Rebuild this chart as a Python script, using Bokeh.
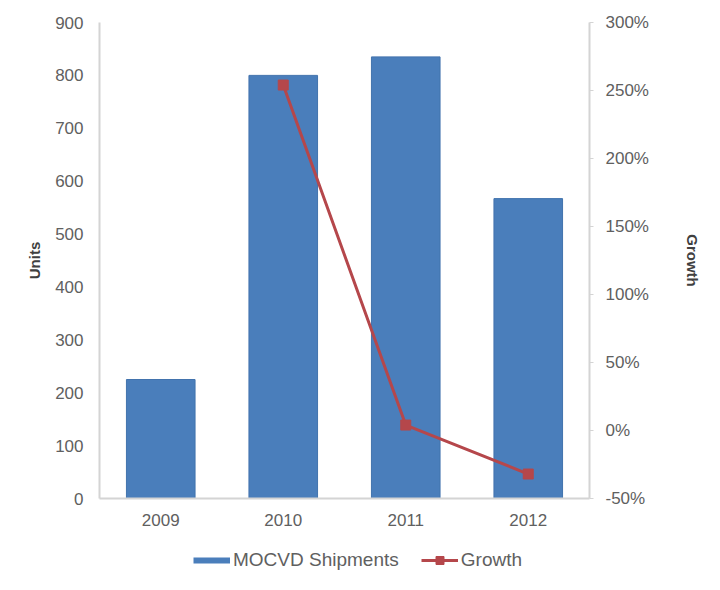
from bokeh.plotting import figure
from bokeh.layouts import column
from bokeh.models import (FactorRange, Range1d, LinearAxis, FixedTicker,
                          PrintfTickFormatter, Legend, LegendItem, ColumnDataSource)
from bokeh.embed import file_html
from bokeh.resources import INLINE

# data
years = ["2009", "2010", "2011", "2012"]
shipments = [225, 800, 835, 567]
growth_years = ["2010", "2011", "2012"]
growth = [254, 4, -32]

units_ticks = [0, 100, 200, 300, 400, 500, 600, 700, 800, 900]
growth_ticks = [-50, 0, 50, 100, 150, 200, 250, 300]

BLUE = "#4a7ebb"
RED = "#b5474b"
GREY = "#606060"
AXIS = "#d4d4d4"
FONT = "Liberation Sans"

p = figure(x_range=FactorRange(*years, range_padding=0), y_range=Range1d(0, 900),
           width=712, height=530, output_backend="svg", toolbar_location=None,
           min_border_left=99, min_border_right=123, min_border_top=22,
           min_border_bottom=32, frame_width=490, frame_height=476)
p.outline_line_color = None
p.grid.visible = False

p.extra_y_ranges = {"growth": Range1d(-50, 300)}

p.vbar(x=years, top=shipments, width=0.56, fill_color=BLUE,
       line_color="#4273ad", line_width=1)

src = ColumnDataSource(dict(x=growth_years, y=growth))
p.line("x", "y", source=src, y_range_name="growth", line_color=RED, line_width=3)
p.scatter("x", "y", source=src, y_range_name="growth", marker="square",
          size=10, fill_color=RED, line_color=RED)

# axes
p.xaxis.axis_line_color = AXIS
p.xaxis.axis_line_width = 2
p.xaxis.major_tick_line_color = None
p.xaxis.minor_tick_line_color = None
p.xaxis.major_label_standoff = 9
p.xaxis.major_label_text_font = FONT
p.xaxis.major_label_text_font_size = "17px"
p.xaxis.major_label_text_color = GREY

ya = p.yaxis[0]
ya.ticker = FixedTicker(ticks=units_ticks)
ya.axis_label = "Units"
ya.axis_label_text_font = FONT
ya.axis_label_text_font_style = "bold"
ya.axis_label_text_font_size = "15px"
ya.axis_label_text_color = "#404040"
ya.axis_label_standoff = 9
ya.axis_line_color = AXIS
ya.axis_line_width = 2
ya.major_tick_line_color = None
ya.minor_tick_line_color = None
ya.major_label_standoff = 10
ya.major_label_text_font = FONT
ya.major_label_text_font_size = "17px"
ya.major_label_text_color = GREY

ra = LinearAxis(y_range_name="growth", ticker=FixedTicker(ticks=growth_ticks),
                formatter=PrintfTickFormatter(format="%d%%"))
ra.axis_label = "Growth"
ra.axis_label_text_font = FONT
ra.axis_label_text_font_style = "bold"
ra.axis_label_text_font_size = "15px"
ra.axis_label_text_color = "#404040"
ra.axis_label_standoff = 32
ra.axis_line_color = AXIS
ra.axis_line_width = 2
ra.major_tick_line_color = AXIS
ra.major_tick_out = 4
ra.major_tick_in = 0
ra.minor_tick_line_color = None
ra.major_label_standoff = 12
ra.major_label_text_font = FONT
ra.major_label_text_font_size = "17px"
ra.major_label_text_color = GREY
p.add_layout(ra, "right")

# legend lives in a small strip below the chart (its frame lines up with the chart's)
lg = figure(width=712, height=52, output_backend="svg", toolbar_location=None,
            x_axis_location=None, y_axis_location=None, min_border=0,
            x_range=Range1d(0, 1), y_range=Range1d(0, 1))
lg.outline_line_color = None
lg.grid.visible = False
nan = float("nan")
sw_bar = lg.line(x=[nan], y=[nan], line_color=BLUE, line_width=6)
sw_line = lg.line(x=[nan], y=[nan], line_color=RED, line_width=3)
sw_mark = lg.scatter(x=[nan], y=[nan], marker="square", size=10,
                     fill_color=RED, line_color=RED)

legend = Legend(items=[LegendItem(label="MOCVD Shipments", renderers=[sw_bar]),
                       LegendItem(label="Growth", renderers=[sw_line, sw_mark])],
                orientation="horizontal", location=(94, 11),
                padding=0, margin=0, spacing=22, glyph_width=37, glyph_height=20,
                label_standoff=3, border_line_color=None, background_fill_alpha=0,
                label_text_font=FONT, label_text_font_size="19px",
                label_text_color=GREY)
lg.add_layout(legend, "center")

layout = column(p, lg, spacing=0)
open("out.html", "w").write(file_html(layout, INLINE))
